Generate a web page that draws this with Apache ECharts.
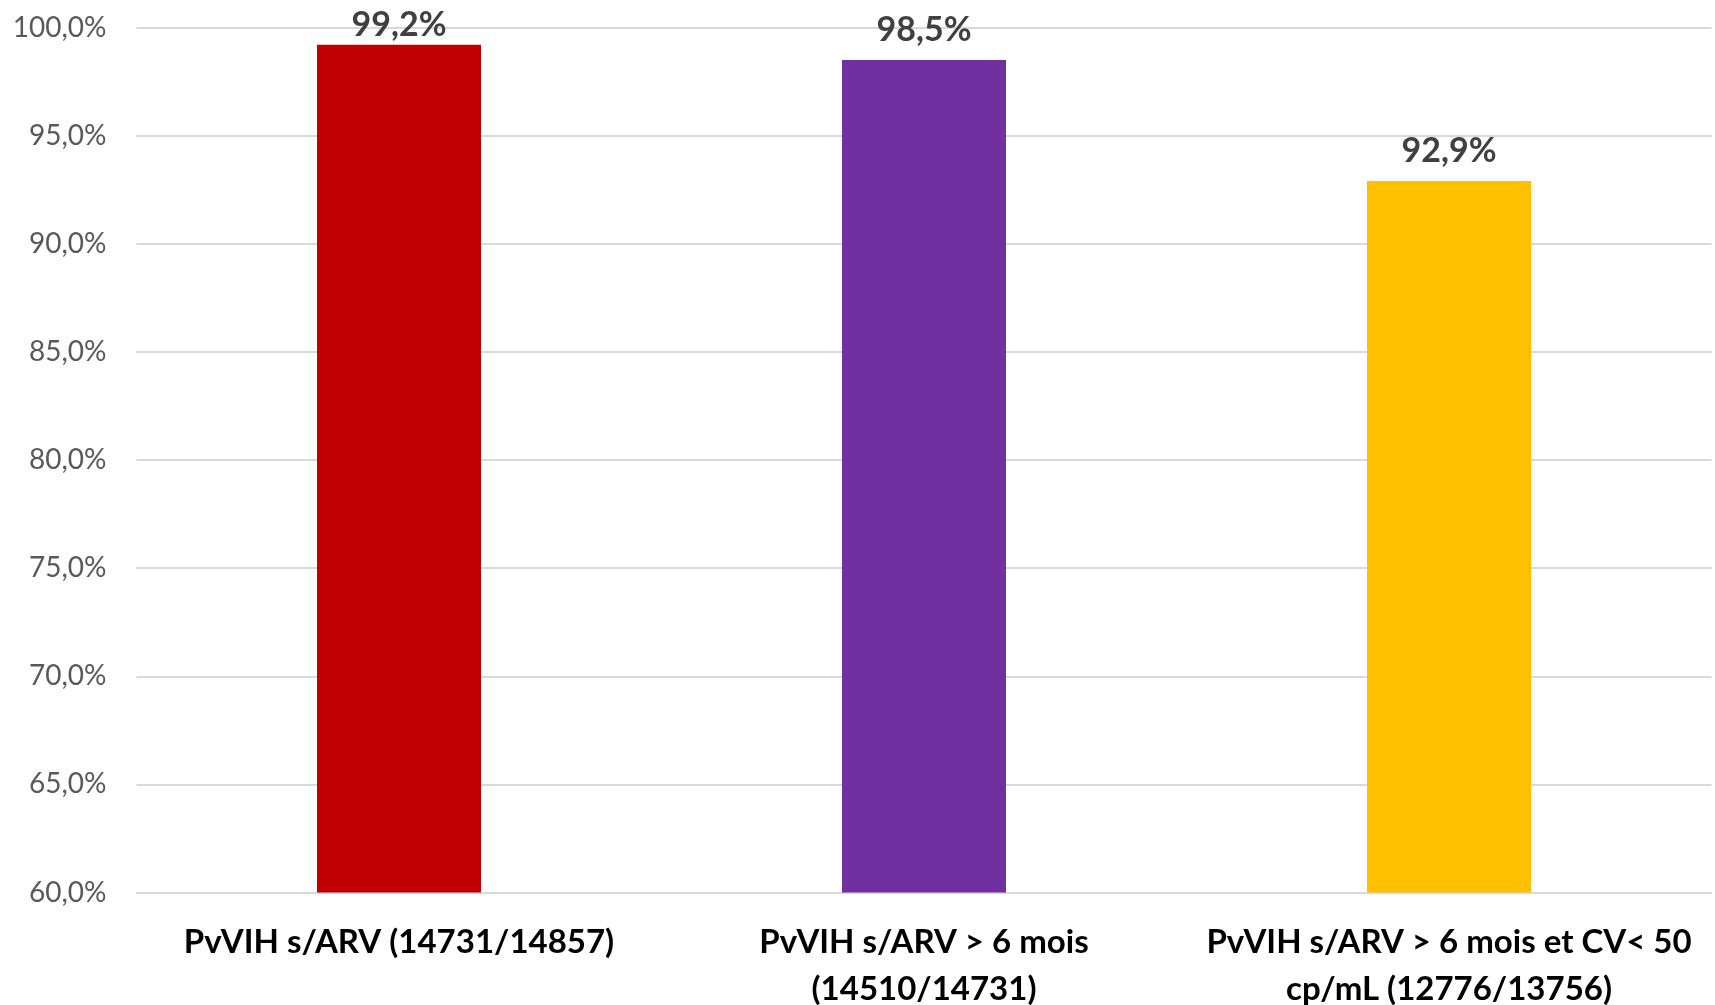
<!DOCTYPE html>
<html>
<head>
<meta charset="utf-8">
<script src="https://cdn.jsdelivr.net/npm/echarts@6/dist/echarts.min.js"></script>
<style>
html,body{margin:0;padding:0;background:#fff;}
#chart{width:1715px;height:1005px;}
</style>
</head>
<body>
<div id="chart"></div>
<script>
const categories = [
  "PvVIH s/ARV (14731/14857)",
  "PvVIH s/ARV > 6 mois\n(14510/14731)",
  "PvVIH s/ARV > 6 mois et CV< 50\ncp/mL (12776/13756)"
];
const values = [99.2, 98.5, 92.9];
const barColors = ["#C00000", "#7030A0", "#FFC000"];
const yMin = 60, yMax = 100, yStep = 5;

const fmt = v => v.toFixed(1).replace('.', ',') + '%';

const chart = echarts.init(document.getElementById('chart'));
chart.setOption({
  animation: false,
  backgroundColor: '#ffffff',
  grid: { left: 136.5, right: 3.5, top: 27.5, bottom: 112.5, containLabel: false, outerBoundsMode: 'none' },
  xAxis: {
    type: 'category',
    data: categories,
    axisLine: { show: true, lineStyle: { color: '#D9D9D9', width: 2 } },
    axisTick: { show: false },
    axisLabel: {
      margin: 26,
      color: '#000000',
      fontFamily: 'Lato',
      fontWeight: 'bold',
      fontSize: 33,
      lineHeight: 47,
      interval: 0
    }
  },
  yAxis: {
    type: 'value',
    min: yMin, max: yMax, interval: yStep,
    axisLine: { show: false },
    axisTick: { show: false },
    splitLine: { lineStyle: { color: '#D9D9D9', width: 2 } },
    axisLabel: {
      margin: 30,
      color: '#595959',
      fontFamily: 'Lato',
      fontSize: 28,
      formatter: v => fmt(v)
    }
  },
  series: [{
    type: 'bar',
    barWidth: 164,
    data: values.map((v, i) => ({
      value: v,
      itemStyle: { color: barColors[i] },
      label: { distance: i === 0 ? 3 : 13 }
    })),
    label: {
      show: true,
      position: 'top',
      color: '#404040',
      fontFamily: 'Lato',
      fontWeight: 'bold',
      fontSize: 34,
      formatter: p => fmt(p.value)
    }
  }]
});
</script>
</body>
</html>
